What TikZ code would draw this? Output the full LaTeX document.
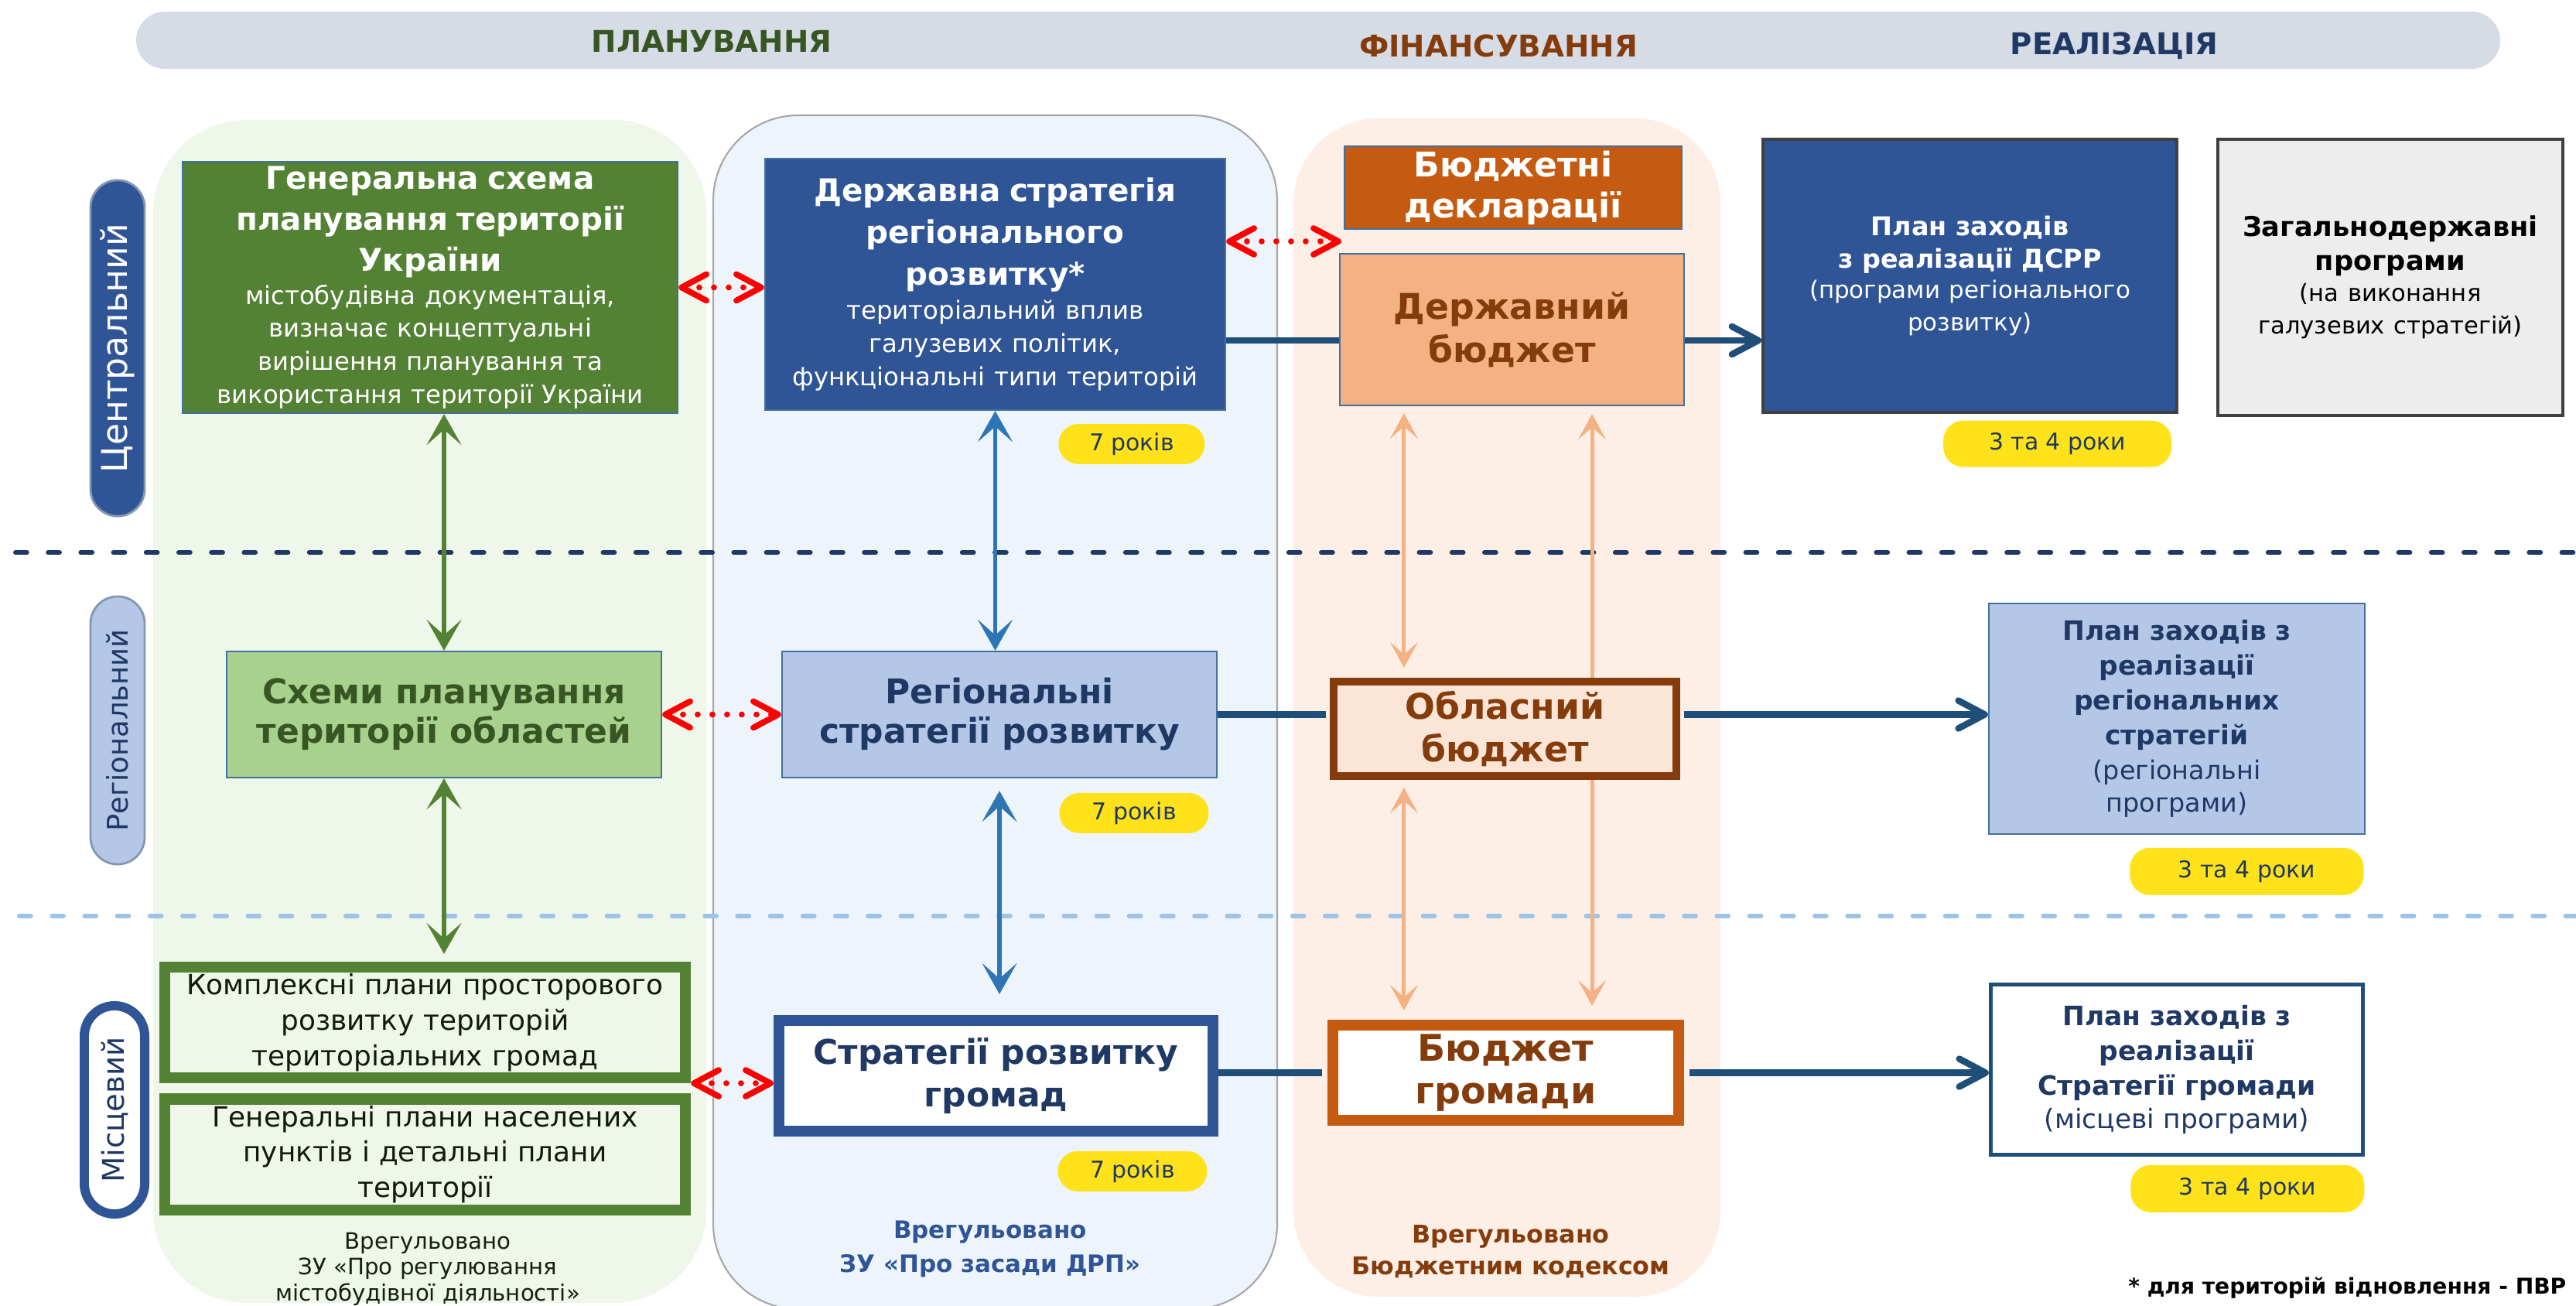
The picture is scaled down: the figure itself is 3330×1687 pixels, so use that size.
\documentclass[tikz,border=0pt]{standalone}
\usepackage{fontspec}
\setmainfont{DejaVu Sans}
\usetikzlibrary{arrows.meta,shapes,positioning,calc}
\definecolor{plangreen}{HTML}{548235}
\definecolor{planlight}{HTML}{A9D18E}
\definecolor{planbg}{HTML}{EFF6EA}
\definecolor{darkgreen}{HTML}{375623}
\definecolor{stratblue}{HTML}{2F5597}
\definecolor{stratlight}{HTML}{B4C7E7}
\definecolor{stratbg}{HTML}{EDF4FB}
\definecolor{navy}{HTML}{1F3864}
\definecolor{flowblue}{HTML}{1F4E79}
\definecolor{arrowblue}{HTML}{2E75B6}
\definecolor{budgetdark}{HTML}{C55A11}
\definecolor{budgetmid}{HTML}{F4B183}
\definecolor{budgetlight}{HTML}{FBE5D6}
\definecolor{budgetbg}{HTML}{FDEFE6}
\definecolor{budgetbrown}{HTML}{843C0C}
\definecolor{bannergray}{HTML}{D6DCE5}
\definecolor{edgeblue}{HTML}{41719C}
\definecolor{edgegray}{HTML}{8497B0}
\definecolor{pillyellow}{HTML}{FFE219}
\definecolor{progray}{HTML}{EDEDED}
\definecolor{sepblue}{HTML}{9DC3E6}
\newcommand{\boxsize}[2]{\fontsize{#1}{#2}\selectfont}
\tikzset{
    phase/.style={
        font=\bfseries\boxsize{11}{13},
    },
    box/.style={
        rectangle,
        draw=edgeblue,
        line width=0.6pt,
        align=center,
        inner sep=0pt,
    },
    tier/.style={
        rectangle,
        rotate=90,
        rounded corners=0.35cm,
        minimum height=0.70cm,
        inner sep=0pt,
    },
    years/.style={
        rectangle,
        rounded corners=0.26cm,
        fill=pillyellow,
        text=navy,
        font=\boxsize{8.5}{10},
        minimum height=0.52cm,
        inner sep=0pt,
    },
    note/.style={
        align=center,
        inner sep=0pt,
    },
    vgreen/.style={
        draw=plangreen,
        line width=1.7pt,
        <->,>={Stealth[length=0.4cm,width=0.45cm,inset=0.2cm]},
    },
    vblue/.style={
        draw=arrowblue,
        line width=1.5pt,
        <->,>={Stealth[length=0.4cm,width=0.45cm,inset=0.2cm]},
    },
    vorange/.style={
        draw=budgetmid,
        line width=1.4pt,
        <->,>={Stealth[length=0.33cm,width=0.36cm,inset=0.16cm]},
    },
    flow/.style={
        draw=flowblue,
        line width=2.4pt,
    },
    flowto/.style={
        flow,
        ->,>={Straight Barb[length=0.34cm,width=0.36cm,round]},
    },
    link/.style={
        draw=red,
        line width=2.2pt,
        line cap=round,
        dash pattern=on 0pt off 5.4pt,
        <->,>={Straight Barb[length=0.32cm,width=0.34cm,round]},
    },
    levelline/.style={
        line width=1.7pt,
        line cap=round,
        dash pattern=on 4.2pt off 7.8pt,
    },
}
\begin{document}
\begin{tikzpicture}[x=0.01cm,y=-0.01cm]
\useasboundingbox (0,0) rectangle (3330,1687);

\fill[bannergray, rounded corners=0.37cm] (176,15) rectangle (3232,89);
\fill[planbg, rounded corners=1.2cm] (198,155) rectangle (913,1684);
\filldraw[fill=stratbg, draw=gray!70, line width=0.6pt, rounded corners=1.1cm] (922,149) rectangle (1651,1692);
\fill[budgetbg, rounded corners=1.1cm] (1672,153) rectangle (2224,1676);
\draw[levelline, draw=navy] (20,714) -- (3330,714);
\draw[levelline, draw=sepblue] (25,1184) -- (3330,1184);

\node[phase, text=darkgreen] (H1) at (920,53) {ПЛАНУВАННЯ};
\node[phase, text=budgetbrown] (H2) at (1937,59) {ФІНАНСУВАННЯ};
\node[phase, text=navy] (H3) at (2733,59) {РЕАЛІЗАЦІЯ};

\node[tier, fill=stratblue, draw=edgegray, line width=0.8pt, text=white, font=\boxsize{13}{15}, minimum width=4.34cm] (L1) at (152,450) {Центральний};
\node[tier, fill=stratlight, draw=edgegray, line width=0.8pt, text=navy, font=\boxsize{10.5}{12}, minimum width=3.46cm] (L2) at (152,944) {Регіональний};
\node[tier, fill=white, draw=stratblue, line width=3.4pt, text=navy, font=\boxsize{11}{13}, minimum width=2.69cm, minimum height=0.78cm, rounded corners=0.39cm] (L3) at (148,1434.5) {Місцевий};

\node[box, fill=plangreen, text=white, minimum width=6.40cm, minimum height=3.25cm, text width=6.30cm] (GS) at (556,371.5) {{\bfseries\boxsize{11.5}{15}Генеральна схема\\планування території\\України\par}\boxsize{9.2}{12.2}містобудівна документація,\\визначає концептуальні\\вирішення планування та\\використання території України};
\node[box, fill=stratblue, text=white, minimum width=5.95cm, minimum height=3.25cm, text width=5.85cm] (DSRR) at (1286.5,367.5) {{\bfseries\boxsize{11.5}{15.3}Державна стратегія\\регіонального\\розвитку*\par}\boxsize{9.2}{12.4}територіальний вплив\\галузевих політик,\\функціональні типи територій};
\node[box, fill=budgetdark, text=white, font=\bfseries\boxsize{12.5}{15}, minimum width=4.36cm, minimum height=1.07cm, text width=4.30cm] (BD) at (1956,242.5) {Бюджетні\\декларації};
\node[box, fill=budgetmid, text=budgetbrown, font=\bfseries\boxsize{13}{16}, minimum width=4.45cm, minimum height=1.96cm, text width=4.35cm] (SB) at (1954.5,426) {Державний\\бюджет};
\node[box, fill=stratblue, draw=black!75, line width=1pt, text=white, minimum width=5.35cm, minimum height=3.53cm, text width=5.25cm] (PD) at (2546.5,356.5) {{\bfseries\boxsize{9.5}{12}План заходів\\з реалізації ДСРР\par}\boxsize{8.8}{11.2}(програми регіонального\\розвитку)};
\node[box, fill=progray, draw=black!75, line width=1.2pt, text=black, minimum width=4.46cm, minimum height=3.57cm, text width=4.36cm] (NP) at (3090,358.5) {{\bfseries\boxsize{10}{12.5}Загальнодержавні\\програми\par}\boxsize{8.7}{11.5}(на виконання\\галузевих стратегій)};

\node[box, fill=planlight, text=darkgreen, font=\bfseries\boxsize{12.5}{14.5}, minimum width=5.62cm, minimum height=1.63cm, text width=5.52cm] (RS) at (574,923.5) {Схеми планування\\території областей};
\node[box, fill=stratlight, text=navy, font=\bfseries\boxsize{12.5}{14.5}, minimum width=5.62cm, minimum height=1.63cm, text width=5.52cm] (RG) at (1292,923.5) {Регіональні\\стратегії розвитку};
\node[box, fill=stratlight, text=navy, minimum width=4.86cm, minimum height=2.98cm, text width=4.76cm] (PR) at (2814,929) {{\bfseries\boxsize{9.8}{12.8}План заходів з\\реалізації\\регіональних\\стратегій\par}\boxsize{9.5}{12.8}(регіональні\\програми)};

\node[box, fill=planbg, draw=plangreen, line width=4pt, text=black!80!plangreen, font=\boxsize{10.2}{13}, minimum width=6.73cm, minimum height=1.43cm, text width=6.50cm] (KP) at (549.5,1321.5) {Комплексні плани просторового\\розвитку територій\\територіальних громад};
\node[box, fill=planbg, draw=plangreen, line width=4pt, text=black!80!plangreen, font=\boxsize{10.2}{13}, minimum width=6.73cm, minimum height=1.43cm, text width=6.50cm] (GP) at (549.5,1492) {Генеральні плани населених\\пунктів і детальні плани\\території};
\node[box, fill=white, draw=stratblue, line width=4pt, text=navy, font=\bfseries\boxsize{12.5}{15.5}, minimum width=5.61cm, minimum height=1.43cm, text width=5.40cm] (CS) at (1287.5,1390.5) {Стратегії розвитку\\громад};
\node[box, fill=white, draw=budgetdark, line width=4pt, text=budgetbrown, font=\bfseries\boxsize{13.5}{15.7}, minimum width=4.47cm, minimum height=1.23cm, text width=4.25cm] (CB) at (1946.5,1386.5) {Бюджет\\громади};
\node[box, fill=white, draw=flowblue, line width=1.4pt, text=navy, minimum width=4.81cm, minimum height=2.20cm, text width=4.65cm] (PC) at (2814,1382.5) {{\bfseries\boxsize{9.8}{12.8}План заходів з\\реалізації\\Стратегії громади\par}\boxsize{9.8}{12.8}(місцеві програми)};

\node[years, minimum width=1.89cm, below left=0.16cm and 0.27cm of DSRR.south east] (Y1) {7 років};
\node[years, minimum width=1.93cm, below left=0.18cm and 0.11cm of RG.south east] (Y2) {7 років};
\node[years, minimum width=1.93cm, below left=0.18cm and 0.14cm of CS.south east] (Y3) {7 років};
\node[years, minimum width=2.95cm, minimum height=0.60cm, below left=0.08cm and 0.08cm of PD.south east] (Y4) {3 та 4 роки};
\node[years, minimum width=3.02cm, minimum height=0.61cm, below left=0.16cm and 0.02cm of PR.south east] (Y5) {3 та 4 роки};
\node[years, minimum width=3.02cm, minimum height=0.61cm, below left=0.10cm and 0cm of PC.south east] (Y6) {3 та 4 роки};

\node[note, text=black!75!plangreen, font=\boxsize{8.3}{9.5}] (N1) at (553,1640) {Врегульовано\\ЗУ «Про регулювання\\містобудівної діяльності»};
\node[note, text=stratblue, font=\bfseries\boxsize{8.8}{12.5}] (N2) at (1280,1614) {Врегульовано\\ЗУ «Про засади ДРП»};
\node[note, text=budgetbrown, font=\bfseries\boxsize{9}{11.7}] (N3) at (1953,1617.5) {Врегульовано\\Бюджетним кодексом};
\node[note, anchor=east, font=\bfseries\boxsize{8}{10}] (FN) at (3318,1665) {* для територій відновлення - ПВР};

\coordinate (oL) at ([xshift=-1.395cm]SB.south);
\coordinate (oR) at ([xshift=1.035cm]SB.south);
\draw[vorange, shorten <=0.1cm, shorten >=0.18cm] (oR) -- (oR |- CB.north);

\node[box, fill=budgetlight, draw=budgetbrown, line width=2.85pt, text=budgetbrown, font=\bfseries\boxsize{13}{15.5}, minimum width=4.43cm, minimum height=1.22cm, text width=4.25cm] (OB) at (1945.5,942) {Обласний\\бюджет};

\draw[vorange, shorten <=0.09cm, shorten >=0.13cm] (oL) -- (oL |- OB.north);
\draw[vorange, shorten <=0.1cm, shorten >=0.12cm] (oL |- OB.south) -- (oL |- CB.north);
\draw[vgreen] (RS.north |- GS.south) -- (RS.north);
\draw[vgreen, shorten >=0.1cm] (RS.south) -- (RS.south |- KP.north);
\draw[vblue] (DSRR.south) -- (DSRR.south |- RG.north);
\draw[vblue, shorten <=0.16cm, shorten >=0.27cm] (RG.south) -- (RG.south |- CS.north);

\coordinate (gapBD) at ($(BD.south west)!0.5!(SB.north west)$);
\draw[link] (GS.east) -- (GS.east -| DSRR.west);
\draw[link] (DSRR.east |- gapBD) -- (gapBD);
\draw[link] (RS.east) -- (RG.west);
\draw[link] (KP.south east) -- (KP.south east -| CS.west);

\coordinate (fl1) at ([yshift=-0.14cm]SB.west);
\draw[flow] (DSRR.east |- fl1) -- (fl1);
\draw[flowto] (fl1 -| SB.east) -- (fl1 -| PD.west);
\draw[flow, shorten >=1.4pt] (RG.east) -- (RG.east -| OB.west);
\draw[flowto, shorten <=1.4pt] (RG.east -| OB.east) -- (RG.east -| PR.west);
\draw[flow, shorten >=2pt] (CS.east |- CB.west) -- (CB.west);
\draw[flowto, shorten <=2pt] (CB.east) -- (CB.east -| PC.west);
\end{tikzpicture}
\end{document}
